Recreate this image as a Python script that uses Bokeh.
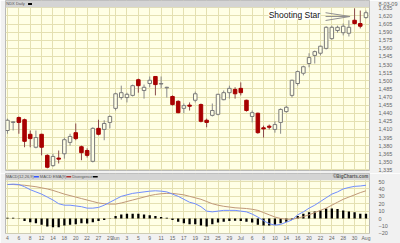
from bokeh.plotting import figure
from bokeh.layouts import column
from bokeh.models import (Range1d, FixedTicker, NumeralTickFormatter, Grid, Label,
                          ColumnDataSource, AllLabels)
from bokeh.embed import file_html
from bokeh.resources import INLINE
from bokeh.core.properties import value

# ---------------- data ----------------
opens  = [1408,1423,1432,1428,1401,1377,1401,1362,1343,1357,1365,1386,1404,1378,1371,1351,
          1412,1410,1423,1449,1469,1469,1473,1502,1482,1495,1508,1494,1487,1471,1462,1449,
          1455,1464,1456,1427,1436,1438,1465,1478,1484,1486,1464,1434,1440,1413,1416,1410,
          1423,1443,1473,1495,1514,1532,1547,1551,1560,1578,1593,1589,1588,1612,1606,1617]
highs  = [1430,1425,1434,1430,1408,1408,1402,1364,1365,1371,1395,1402,1421,1380,1375,1414,
          1428,1427,1436,1478,1491,1478,1493,1504,1493,1508,1508,1508,1489,1473,1464,1458,
          1460,1480,1458,1430,1458,1476,1482,1491,1488,1497,1465,1445,1441,1417,1419,1425,
          1449,1454,1502,1519,1528,1551,1556,1565,1601,1602,1602,1606,1612,1634,1630,1630]
lows   = [1402,1408,1402,1377,1377,1375,1362,1338,1341,1347,1356,1380,1390,1353,1358,1349,
          1399,1390,1412,1445,1465,1460,1471,1478,1467,1488,1473,1486,1469,1454,1440,1440,
          1445,1460,1423,1414,1434,1436,1464,1467,1467,1473,1443,1423,1402,1395,1410,1404,
          1402,1441,1469,1491,1510,1525,1532,1547,1558,1576,1589,1584,1582,1604,1597,1615]
closes = [1427,1424,1423,1388,1393,1395,1377,1340,1360,1355,1391,1397,1393,1367,1362,1412,
          1401,1421,1434,1476,1478,1475,1491,1491,1488,1501,1493,1495,1488,1456,1441,1454,
          1453,1476,1425,1423,1445,1475,1478,1486,1476,1478,1445,1441,1404,1411,1414,1419,
          1447,1451,1501,1517,1526,1543,1554,1564,1599,1599,1599,1601,1599,1606,1601,1626]

macd   = [46,46.5,46,43,39,36,33,29,25,20,18,18,17,16,14,14,
          15,18,22,26,30,32,34,35,36,37,37.5,37,36,33,30,26,
          22,20,16,10,9,10,11,11,11,10,9,6,2,-3,-7,-9,
          -8,-5,-2,5,9,14,18,23,28,33,36,40,42,43.5,44,45]
signal = [46,46,45.5,45,44,43,41.5,40,38,35.5,33,31,29,27,25,23,
          21,20,19.5,19.5,21,23,25,27,29,31,32.5,33.5,34,34,33,32,
          30,28,26,23,20,18,16.5,15.5,14.5,14,13.5,12.5,11,8,5,2,
          0,-1,-1,0.5,2.5,5,8,11,14,18,22,26,29,32,35,37.5]
hist   = [1,1,0.5,-3.4,-5,-6.4,-8.5,-10.7,-12,-12,-9.4,-8.5,-7.7,-6.4,-6.8,-5,
          -3.4,-2,0.3,3.4,5.5,6.4,6.4,6.4,5.5,4.3,3.4,2,1,-2,-4.3,-6.4,
          -7.7,-7.7,-9.4,-10.7,-7.7,-5.5,-4.3,-3.4,-3,-3.4,-4.3,-5.5,-8.5,-9.4,-9.4,-8.5,
          -6.4,-4.3,-2,3.4,6.4,8.5,9.4,10.7,13.7,13.7,12.8,10.7,9.4,8.5,6.4,6.4]

date_tick_idx = [0,2,4,6,8,10,12,14,16,18,19,21,23,25,27,29,31,33,35,37,39,41,43,45,47,
                 49,51,53,55,57,59,61,63]
date_tick_lbl = ["4","6","8","12","14","18","20","22","27","29","Jun","3","5","9","11","15",
                 "17","19","23","25","29","Jul","6","8","10","14","16","20","22","24","28",
                 "30","Aug"]
price_ticks = [1335,1350,1365,1380,1395,1410,1425,1440,1455,1470,1485,1500,1515,1530,1545,
               1560,1575,1590,1605,1620,1635]
macd_ticks = [50,40,30,20,10,0,-10,-20]
chart_date = "8-03-09"

# ---------------- styles ----------------
BG = "#FFFFE6"
GRID = "#E4E0B2"
BORDER = "#F1F1F1"
HDR = "#D4D4D4"
RED = "#A80000"
FONT = "Liberation Sans"

n = len(opens)
xs = list(range(n))
X0, X1 = -0.345, 63.62

# ---------------- price panel (frame includes the 7px header band) ----------------
P_LO, P_TOP, P_HI = 1334, 1635.9, 1648.6
PY = (P_TOP + P_HI) / 2
DATE_TICK = 1643
p1 = figure(width=400, height=173, x_range=Range1d(X0, X1), y_range=Range1d(P_LO, P_HI),
            toolbar_location=None, output_backend="svg",
            x_axis_location=None, y_axis_location="right",
            min_border_left=5, min_border_right=24, min_border_top=0, min_border_bottom=3)
p1.background_fill_color = BG
p1.border_fill_color = BORDER
p1.outline_line_color = "#B8B8B8"
p1.grid.visible = False
p1.add_layout(Grid(dimension=0, ticker=FixedTicker(ticks=date_tick_idx),
                   grid_line_color=GRID, grid_line_width=1))
p1.add_layout(Grid(dimension=1, ticker=FixedTicker(ticks=price_ticks),
                   grid_line_color=GRID, grid_line_width=1))
ya = p1.yaxis[0]
ya.ticker = FixedTicker(ticks=price_ticks + [DATE_TICK])
ya.formatter = NumeralTickFormatter(format="0,0")
ya.major_label_overrides = {DATE_TICK: chart_date}
ya.major_label_policy = AllLabels()
ya.major_label_text_font = FONT
ya.major_label_text_font_size = "5.5px"
ya.major_label_text_color = "#666666"
ya.axis_line_color = None
ya.major_tick_line_color = None
ya.minor_tick_line_color = None
ya.major_label_standoff = 3

up = [i for i in xs if closes[i] >= opens[i]]
dn = [i for i in xs if closes[i] < opens[i]]
src_up = ColumnDataSource(dict(x=up, h=[highs[i] for i in up], l=[lows[i] for i in up],
                               t=[max(opens[i], closes[i]) for i in up],
                               b=[min(opens[i], closes[i]) for i in up]))
src_dn = ColumnDataSource(dict(x=dn, h=[highs[i] for i in dn], l=[lows[i] for i in dn],
                               t=[max(opens[i], closes[i]) for i in dn],
                               b=[min(opens[i], closes[i]) for i in dn]))
p1.segment(x0="x", y0="h", x1="x", y1="l", source=src_up, line_color="#8A8A8A", line_width=1)
p1.segment(x0="x", y0="h", x1="x", y1="l", source=src_dn, line_color="#8A4A4A", line_width=1)
p1.vbar(x="x", width=0.62, top="t", bottom="b", source=src_up, fill_color=BG,
        line_color="#7A7A7A", line_width=1)
p1.vbar(x="x", width=0.62, top="t", bottom="b", source=src_dn, fill_color=RED,
        line_color=RED, line_width=1)

p1.segment(x0=[55.9, 55.9, 55.9], y0=[1626, 1619, 1611.6], x1=[60.2, 60.2, 60.2],
           y1=[1619, 1619, 1619], line_color="#909090", line_width=1)
p1.add_layout(Label(x=45.9, y=1622.5, text="Shooting Star", text_font=FONT,
                    text_font_size="8.5px", text_color="#111111", text_baseline="middle",
                    background_fill_color="white", background_fill_alpha=1.0))

# header band 1
p1.quad(left=[X0], right=[X1], bottom=[P_TOP], top=[P_HI], fill_color=HDR, line_color=None)
p1.text(x=[-0.2], y=[PY], text=["NDX Daily"], text_font=value(FONT),
        text_font_size="4px", text_color="#555555", text_baseline="middle",
        text_align="left")
p1.segment(x0=[3.62], y0=[PY], x1=[4.31], y1=[PY], line_color="black", line_width=2)

# ---------------- MACD panel (frame includes the 7px header band) ----------------
M_LO, M_TOP, M_HI = -20.3, 51.9, 60.9
p2 = figure(width=400, height=70, x_range=p1.x_range, y_range=Range1d(M_LO, M_HI),
            toolbar_location=None, output_backend="svg", y_axis_location="right",
            min_border_left=5, min_border_right=24, min_border_top=0, min_border_bottom=7)
p2.background_fill_color = BG
p2.border_fill_color = BORDER
p2.outline_line_color = "#B8B8B8"
p2.grid.visible = False
p2.add_layout(Grid(dimension=0, ticker=FixedTicker(ticks=date_tick_idx),
                   grid_line_color=GRID, grid_line_width=1))
p2.add_layout(Grid(dimension=1, ticker=FixedTicker(ticks=macd_ticks),
                   grid_line_color=GRID, grid_line_width=1))
ya2 = p2.yaxis[0]
ya2.ticker = FixedTicker(ticks=macd_ticks)
ya2.major_label_policy = AllLabels()
ya2.major_label_text_font = FONT
ya2.major_label_text_font_size = "5.5px"
ya2.major_label_text_color = "#666666"
ya2.axis_line_color = None
ya2.major_tick_line_color = None
ya2.minor_tick_line_color = None
ya2.major_label_standoff = 3
xa2 = p2.xaxis[0]
xa2.ticker = FixedTicker(ticks=date_tick_idx)
xa2.major_label_overrides = {i: s for i, s in zip(date_tick_idx, date_tick_lbl)}
xa2.major_label_policy = AllLabels()
xa2.major_label_text_font = FONT
xa2.major_label_text_font_size = "5px"
xa2.major_label_text_color = "#666666"
xa2.axis_line_color = None
xa2.major_tick_line_color = None
xa2.minor_tick_line_color = None
xa2.major_tick_out = 0
xa2.major_label_standoff = 1

p2.vbar(x=xs, width=0.4, top=hist, bottom=0, fill_color="black", line_color=None)
p2.line(xs, signal, line_color="#C09878", line_width=1)
p2.line(xs, macd, line_color="#6F8CFF", line_width=1)

# header band 2
MY = (M_TOP + M_HI) / 2
p2.quad(left=[X0], right=[X1], bottom=[M_TOP], top=[M_HI], fill_color=HDR, line_color=None)
p2.text(x=[-0.26, 5.69, 11.38], y=[MY, MY, MY],
        text=["MACD(12,26,9)", "MACD EMA(9)", "Divergence"],
        text_font=value(FONT), text_font_size="4px", text_color="#555555",
        text_baseline="middle", text_align="left")
p2.segment(x0=[4.66, 10.35, 15.0], y0=[MY, MY, MY], x1=[5.52, 11.2, 15.86], y1=[MY, MY, MY],
           line_color=["#3355FF", "#B03030", "black"], line_width=1.5)
p2.text(x=[63.4], y=[MY], text=["\u00a9BigCharts.com"], text_font=value(FONT),
        text_font_size="4.5px", text_font_style="bold", text_color="#555555",
        text_baseline="middle", text_align="right")

layout = column(p1, p2, spacing=0)
open("out.html", "w").write(file_html(layout, INLINE))
